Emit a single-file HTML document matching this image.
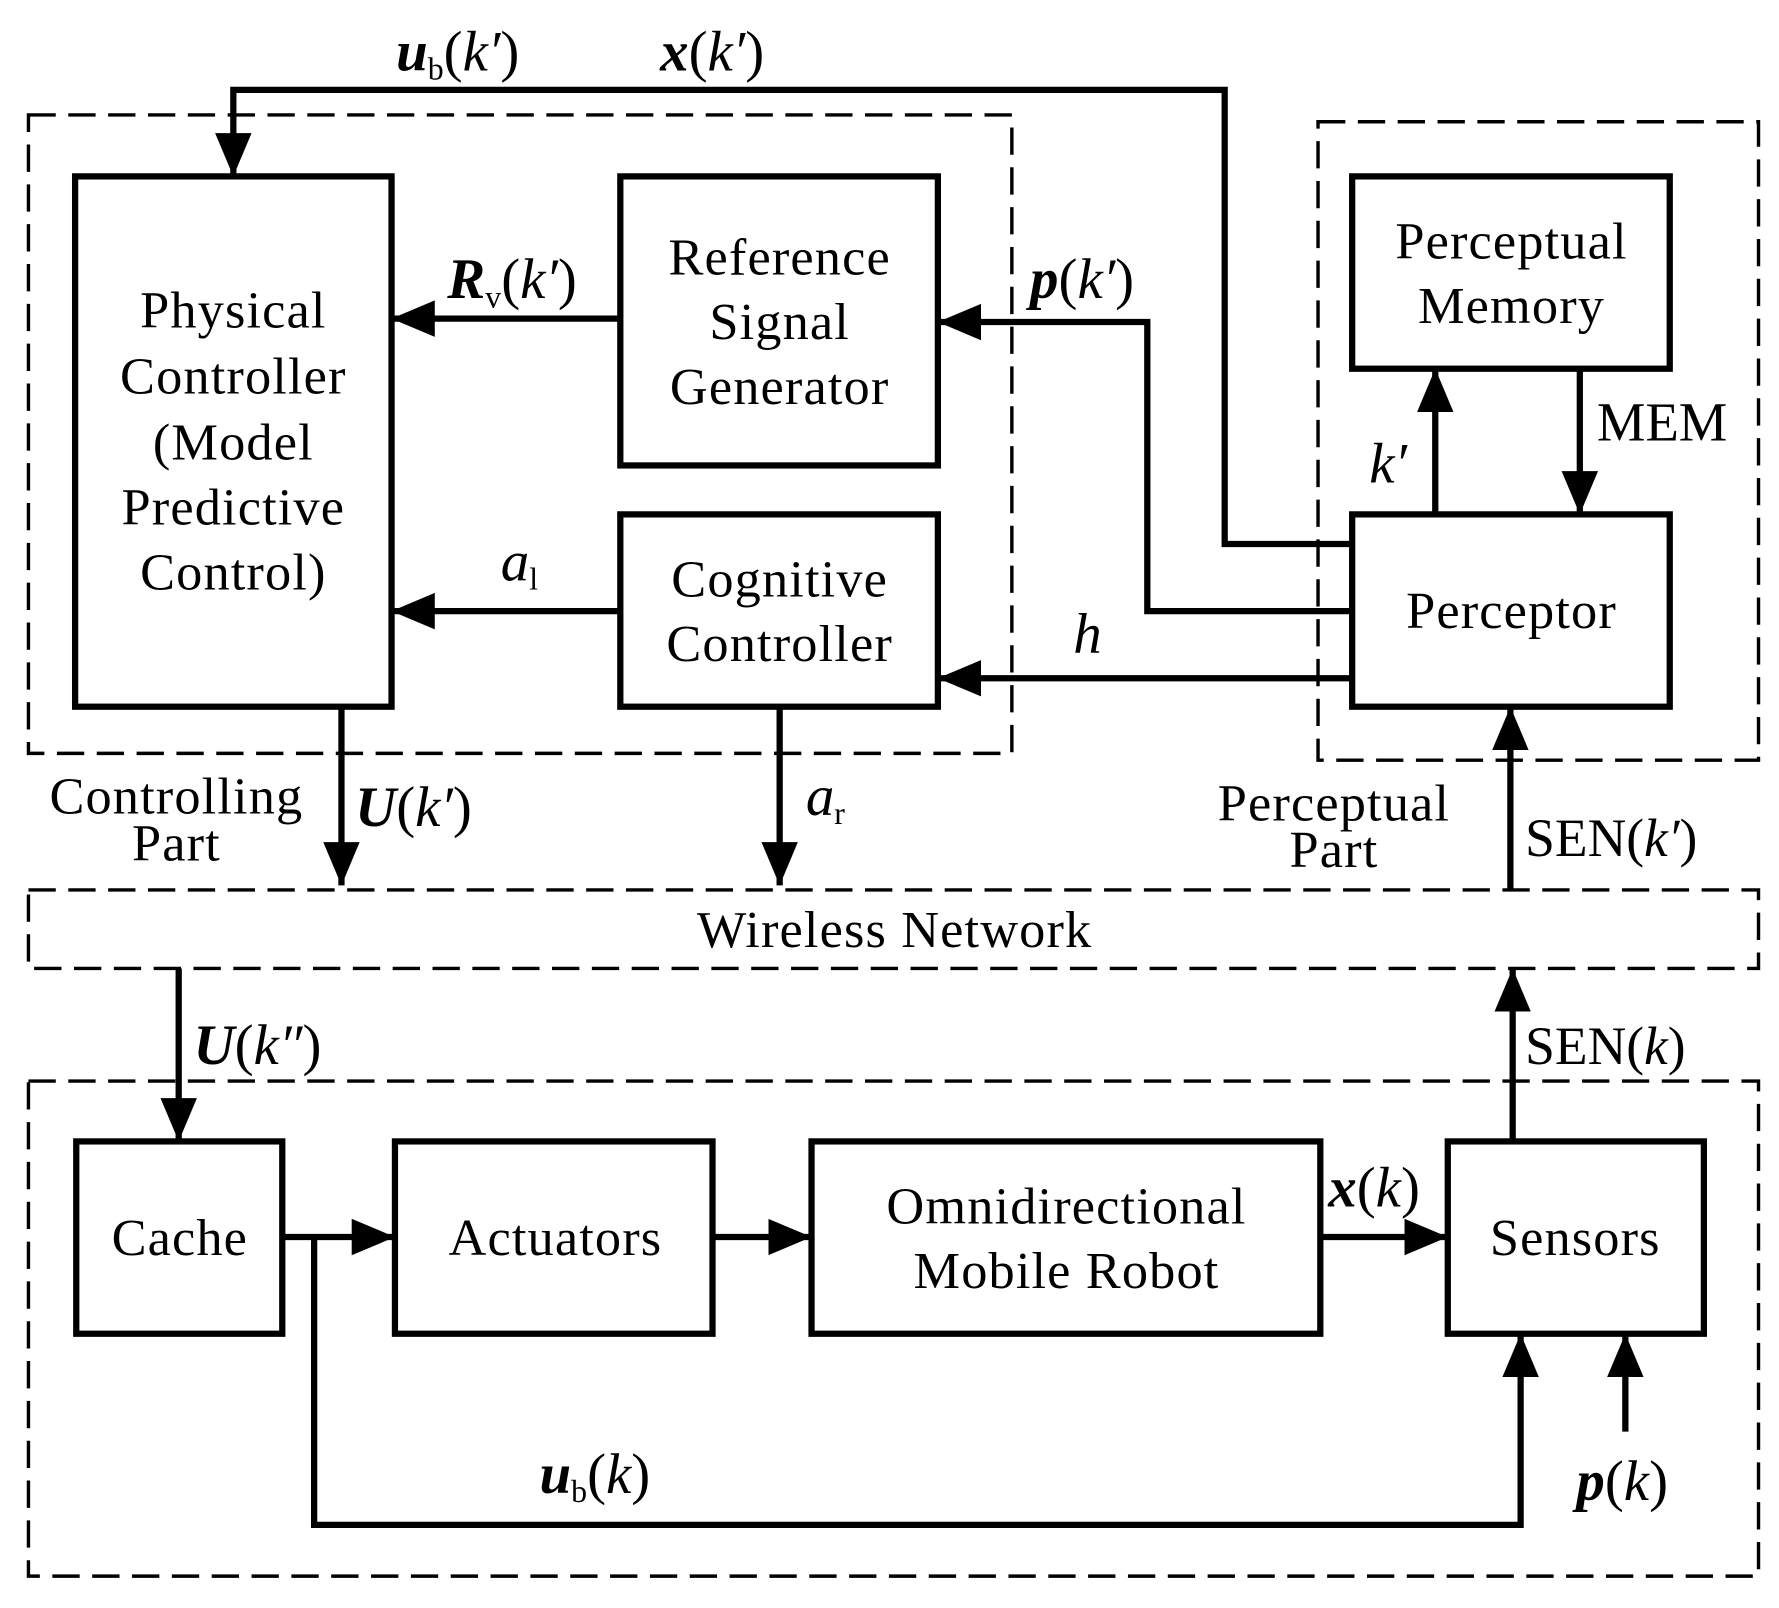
<!DOCTYPE html>
<html><head><meta charset="utf-8"><style>
html,body{margin:0;padding:0;background:#fff;}
svg{display:block;}
text{font-family:"Liberation Serif",serif;fill:#000;}
.b{font-size:46px;letter-spacing:1px;}
.m{font-size:50px;}
.i{font-style:italic;}
.bi{font-style:italic;font-weight:bold;}
</style></head><body>
<svg width="1779" height="1608" viewBox="0 0 1563 1413" preserveAspectRatio="none" xmlns="http://www.w3.org/2000/svg">
<defs>
<marker id="a" markerWidth="40" markerHeight="34" refX="38" refY="16" orient="auto" markerUnits="userSpaceOnUse">
<path d="M0,0 L38,16 L0,32 Z" fill="#000"/></marker>
</defs>
<g fill="none" stroke="#000" stroke-width="3" stroke-dasharray="24 11">
<rect x="25" y="101" width="864" height="561"/>
<rect x="1158" y="107" width="387" height="561"/>
<rect x="25" y="782" width="1520" height="69"/>
<rect x="25" y="950" width="1520" height="435"/>
</g>
<g fill="none" stroke="#000" stroke-width="5.5">
<rect x="66" y="155" width="278" height="466"/>
<rect x="545" y="155" width="279" height="254"/>
<rect x="545" y="452" width="279" height="169"/>
<rect x="1188" y="155" width="279" height="169"/>
<rect x="1188" y="452" width="279" height="169"/>
<rect x="67" y="1003" width="181" height="169"/>
<rect x="347" y="1003" width="279" height="169"/>
<rect x="713" y="1003" width="447" height="169"/>
<rect x="1272" y="1003" width="225" height="169"/>
</g>
<g fill="none" stroke="#000" stroke-width="5.5" marker-end="url(#a)">
<polyline points="1188,478 1076,478 1076,79 205,79 205,155"/>
<polyline points="1188,537 1008,537 1008,283 824,283"/>
<line x1="1188" y1="596" x2="824" y2="596"/>
<line x1="545" y1="280" x2="344" y2="280"/>
<line x1="545" y1="537" x2="344" y2="537"/>
<line x1="300" y1="621" x2="300" y2="778"/>
<line x1="685" y1="621" x2="685" y2="778"/>
<line x1="1327" y1="782" x2="1327" y2="621"/>
<line x1="1261" y1="452" x2="1261" y2="324"/>
<line x1="1388" y1="324" x2="1388" y2="452"/>
<line x1="157" y1="851" x2="157" y2="1003"/>
<line x1="1329" y1="1003" x2="1329" y2="851"/>
<line x1="248" y1="1087" x2="347" y2="1087"/>
<line x1="626" y1="1087" x2="713" y2="1087"/>
<line x1="1160" y1="1087" x2="1272" y2="1087"/>
<polyline points="276,1087 276,1340 1336,1340 1336,1172"/>
<line x1="1428" y1="1258" x2="1428" y2="1172"/>
</g>
<g class="b" text-anchor="middle">
<text x="205" y="288">Physical</text>
<text x="205" y="346">Controller</text>
<text x="205" y="404">(Model</text>
<text x="205" y="461">Predictive</text>
<text x="205" y="518">Control)</text>
<text x="685" y="241">Reference</text>
<text x="685" y="298">Signal</text>
<text x="685" y="355">Generator</text>
<text x="685" y="524">Cognitive</text>
<text x="685" y="581">Controller</text>
<text x="1328" y="227">Perceptual</text>
<text x="1328" y="284">Memory</text>
<text x="1328" y="552">Perceptor</text>
<text x="158" y="1103">Cache</text>
<text x="488" y="1103">Actuators</text>
<text x="937" y="1075">Omnidirectional</text>
<text x="937" y="1132">Mobile Robot</text>
<text x="1384" y="1103">Sensors</text>
<text x="786" y="832">Wireless Network</text>
<text x="155" y="715">Controlling</text>
<text x="155" y="756">Part</text>
<text x="1172" y="721">Perceptual</text>
<text x="1172" y="762">Part</text>
</g>
<g class="m">
<text x="348" y="62"><tspan class="bi">u</tspan><tspan font-size="28" dy="8">b</tspan><tspan dy="-8">(</tspan><tspan class="i">k′</tspan>)</text>
<text x="580" y="62"><tspan class="bi">x</tspan>(<tspan class="i">k′</tspan>)</text>
<text x="393" y="262"><tspan class="bi">R</tspan><tspan font-size="28" dy="8">v</tspan><tspan dy="-8">(</tspan><tspan class="i">k′</tspan>)</text>
<text x="905" y="262"><tspan class="bi">p</tspan>(<tspan class="i">k′</tspan>)</text>
<text x="440" y="510" class="i">a<tspan font-size="28" dy="8" font-style="normal">l</tspan></text>
<text x="943" y="574" class="i">h</text>
<text x="1203" y="424" class="i">k′</text>
<text x="1403" y="387" font-size="48">MEM</text>
<text x="312" y="726"><tspan class="bi">U</tspan>(<tspan class="i">k′</tspan>)</text>
<text x="708" y="716" class="i">a<tspan font-size="28" dy="8" font-style="normal">r</tspan></text>
<text x="1340" y="752" font-size="47">SEN(<tspan class="i">k′</tspan>)</text>
<text x="170" y="935"><tspan class="bi">U</tspan>(<tspan class="i">k″</tspan>)</text>
<text x="1340" y="935" font-size="47">SEN(<tspan class="i">k</tspan>)</text>
<text x="1167" y="1060"><tspan class="bi">x</tspan>(<tspan class="i">k</tspan>)</text>
<text x="474" y="1312"><tspan class="bi">u</tspan><tspan font-size="28" dy="8">b</tspan><tspan dy="-8">(</tspan><tspan class="i">k</tspan>)</text>
<text x="1385" y="1318"><tspan class="bi">p</tspan>(<tspan class="i">k</tspan>)</text>
</g>
</svg>
</body></html>
